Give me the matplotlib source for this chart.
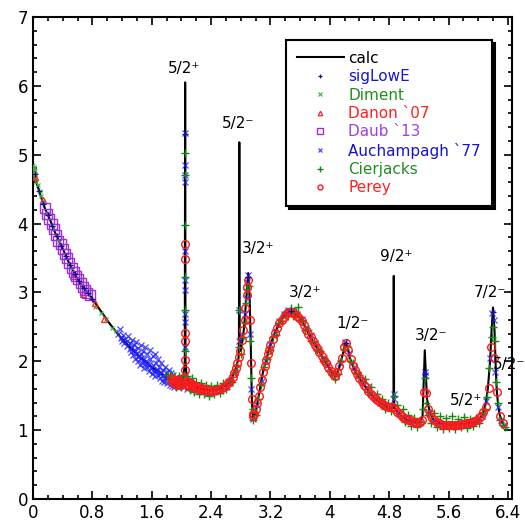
import matplotlib
matplotlib.use("Agg")
import matplotlib.pyplot as plt
from matplotlib.ticker import MultipleLocator

# calculated total cross section
calc_x = [0.00, 0.04, 0.09, 0.16, 0.23, 0.30, 0.39, 0.48, 0.57, 0.66, 0.77, 0.90, 1.03, 1.17,
          1.30, 1.44, 1.57, 1.71, 1.85, 1.95, 2.00, 2.03, 2.045, 2.05, 2.055, 2.07, 2.10, 2.20,
          2.30, 2.40, 2.50, 2.60, 2.68, 2.74, 2.77, 2.775, 2.78, 2.785, 2.80, 2.84, 2.87, 2.90,
          2.92, 2.935, 2.95, 2.965, 3.00, 3.05, 3.10, 3.19, 3.26, 3.33, 3.40, 3.46, 3.52, 3.62,
          3.73, 3.80, 3.87, 3.95, 4.03, 4.07, 4.12, 4.17, 4.21, 4.24, 4.27, 4.33, 4.41, 4.50,
          4.58, 4.68, 4.77, 4.85, 4.858, 4.862, 4.866, 4.87, 4.95, 5.04, 5.12, 5.21, 5.25, 5.28,
          5.31, 5.35, 5.40, 5.48, 5.60, 5.71, 5.82, 5.93, 6.00, 6.06, 6.10, 6.13, 6.16, 6.18,
          6.20, 6.22, 6.235, 6.25, 6.27, 6.29, 6.33]
calc_y = [4.80, 4.62, 4.44, 4.22, 4.05, 3.86, 3.66, 3.44, 3.25, 3.09, 2.95, 2.75, 2.55, 2.36,
          2.21, 2.06, 1.94, 1.83, 1.74, 1.71, 1.70, 1.75, 2.00, 6.05, 2.00, 1.78, 1.69, 1.62,
          1.59, 1.58, 1.59, 1.65, 1.75, 1.92, 2.05, 2.30, 5.18, 2.30, 2.15, 2.45, 2.85, 3.28,
          2.90, 2.20, 1.40, 1.19, 1.25, 1.55, 1.85, 2.21, 2.42, 2.57, 2.68, 2.72, 2.70, 2.60,
          2.37, 2.24, 2.12, 1.97, 1.83, 1.78, 1.88, 2.08, 2.26, 2.22, 2.05, 1.88, 1.73, 1.60,
          1.49, 1.40, 1.34, 1.32, 1.40, 3.24, 1.40, 1.32, 1.22, 1.15, 1.12, 1.11, 1.20, 2.16,
          1.45, 1.25, 1.15, 1.10, 1.08, 1.08, 1.09, 1.11, 1.15, 1.22, 1.38, 1.60, 2.00, 2.45,
          2.78, 2.45, 1.95, 1.58, 1.35, 1.22, 1.10]

sig_x = [0.02, 0.08, 0.14, 0.20, 0.26, 0.32, 0.38, 0.44, 0.50, 0.56, 0.62, 0.68, 0.74, 0.80,
         2.05, 2.90, 3.47, 4.22, 5.28, 6.20]
sig_y = [4.72, 4.47, 4.28, 4.12, 3.97, 3.82, 3.68, 3.53, 3.40, 3.27, 3.17, 3.06, 2.99, 2.90,
         5.30, 3.22, 2.73, 2.27, 1.82, 2.72]

diment_x = [0.000, 0.005, 0.010, 0.010, 0.015, 0.020, 0.005, 0.020, 0.030, 0.040, 0.06, 0.09,
            0.11, 0.14, 0.19, 0.27, 0.35, 0.52, 0.71, 0.84, 0.92, 0.98, 1.06, 1.12]
diment_y = [4.78, 4.85, 4.80, 4.74, 4.82, 4.77, 4.70, 4.66, 4.72, 4.60, 4.56, 4.47, 4.40, 4.33,
            4.15, 3.93, 3.74, 3.36, 3.00, 2.79, 2.70, 2.62, 2.48, 2.44]

danon_x = [0.03, 0.13, 0.535, 0.67, 0.84, 0.95]
danon_y = [4.68, 4.34, 3.24, 2.97, 2.84, 2.62]

daub_x = [0.16, 0.19, 0.22, 0.25, 0.28, 0.31, 0.34, 0.37, 0.40, 0.43, 0.46, 0.49, 0.52, 0.55,
          0.58, 0.61, 0.64, 0.67, 0.70, 0.73, 0.77]
daub_y = [4.23, 4.14, 4.07, 4.00, 3.92, 3.84, 3.75, 3.70, 3.63, 3.56, 3.50, 3.42, 3.36, 3.30,
          3.24, 3.19, 3.13, 3.08, 3.03, 2.99, 2.96]

auch_x = [1.15, 1.17, 1.18, 1.20, 1.21, 1.23, 1.24, 1.26, 1.27, 1.28, 1.30, 1.31, 1.32, 1.33,
          1.34, 1.35, 1.36, 1.37, 1.38, 1.39, 1.40, 1.41, 1.42, 1.43, 1.44, 1.45, 1.46, 1.47,
          1.48, 1.49, 1.50, 1.51, 1.52, 1.53, 1.54, 1.55, 1.56, 1.57, 1.58, 1.59, 1.60, 1.61,
          1.62, 1.63, 1.64, 1.65, 1.66, 1.67, 1.68, 1.69, 1.70, 1.71, 1.72, 1.73, 1.74, 1.75,
          1.76, 1.77, 1.78, 1.79, 1.80, 1.81, 1.82, 1.83, 1.84, 1.85, 1.86, 1.87, 1.88, 1.89,
          1.90, 1.92, 1.93, 1.95, 1.96, 1.98, 2.00, 2.02, 2.04, 2.08, 2.12,
          1.36, 1.41, 1.46, 1.51, 1.56, 1.61, 1.66, 1.71, 1.76, 1.81, 1.86, 1.91, 1.96,
          2.05, 2.05, 2.05, 2.05, 2.05, 2.05, 2.05, 2.05, 2.05, 2.05,
          2.78, 2.78, 2.90, 2.89, 2.88, 2.93, 2.94,
          2.20, 2.28, 2.36, 2.44, 2.52, 2.60, 2.66, 2.72, 2.82, 2.86, 2.97, 3.02, 3.08, 3.14,
          3.20, 3.26, 3.32, 3.38, 3.44, 3.50, 3.56, 3.62, 3.68, 3.74, 3.80, 3.86, 3.92, 3.98,
          4.04, 4.09, 4.14, 4.20, 4.26, 4.32, 4.38, 4.44, 4.50, 4.56, 4.62, 4.68, 4.74, 4.80,
          4.86, 4.86, 4.92, 4.98, 5.04, 5.10, 5.16, 5.22, 5.28, 5.28, 5.33, 5.39, 5.45, 5.51,
          5.57, 5.63, 5.69, 5.75, 5.81, 5.87, 5.93, 5.99, 6.05, 6.11, 6.16, 6.19, 6.21, 6.23,
          6.27, 6.31, 6.35]
auch_y = [2.40, 2.47, 2.34, 2.30, 2.38, 2.26, 2.33, 2.22, 2.30, 2.36, 2.18, 2.26, 2.14, 2.31,
          2.20, 2.09, 2.24, 2.15, 2.03, 2.28, 2.12, 2.00, 2.19, 2.07, 1.95, 2.23, 2.10, 1.98,
          2.15, 2.04, 1.90, 2.20, 2.00, 1.92, 2.11, 1.97, 1.86, 2.16, 2.03, 1.90, 1.82, 2.07,
          1.95, 1.86, 2.10, 1.78, 1.98, 1.88, 1.80, 2.04, 1.92, 1.76, 1.85, 1.97, 1.72, 1.88,
          1.80, 1.70, 1.92, 1.76, 1.84, 1.68, 1.79, 1.88, 1.66, 1.75, 1.83, 1.64, 1.72, 1.80,
          1.62, 1.70, 1.77, 1.63, 1.74, 1.66, 1.76, 1.62, 1.70, 1.60, 1.72,
          2.17, 2.06, 2.05, 1.96, 1.94, 1.87, 1.85, 1.81, 1.76, 1.74, 1.70, 1.68, 1.69,
          5.32, 4.85, 4.70, 4.60, 3.60, 3.18, 3.04, 2.68, 2.57, 2.20,
          2.74, 2.30, 3.26, 3.15, 2.92, 2.40, 1.60,
          1.57, 1.55, 1.54, 1.55, 1.57, 1.62, 1.69, 1.84, 2.36, 2.68, 1.16, 1.36, 1.71, 2.00,
          2.25, 2.43, 2.58, 2.68, 2.74, 2.74, 2.68, 2.61, 2.49, 2.38, 2.27, 2.16, 2.05, 1.94,
          1.85, 1.80, 1.98, 2.28, 2.12, 1.91, 1.80, 1.70, 1.62, 1.52, 1.45, 1.40, 1.36, 1.33,
          1.52, 1.45, 1.25, 1.19, 1.13, 1.12, 1.09, 1.10, 1.85, 1.80, 1.27, 1.15, 1.10, 1.07,
          1.06, 1.05, 1.06, 1.06, 1.07, 1.09, 1.10, 1.13, 1.20, 1.42, 2.05, 2.70, 2.60, 1.85,
          1.33, 1.15, 1.07]

cier_x = [1.80, 1.83, 1.86, 1.90, 1.93, 1.97, 2.00, 2.03,
          2.05, 2.05, 2.05, 2.05, 2.05, 2.05,
          2.08, 2.11, 2.14, 2.17, 2.20, 2.23, 2.26, 2.30, 2.33, 2.37, 2.40, 2.44, 2.48, 2.52,
          2.56, 2.60, 2.64, 2.68, 2.72, 2.75, 2.78, 2.78, 2.80, 2.83, 2.85, 2.87, 2.89, 2.91,
          2.93, 2.94, 2.96, 2.97, 3.00, 3.03, 3.07, 3.11, 3.15, 3.19, 3.23, 3.27, 3.31, 3.35,
          3.39, 3.43, 3.47, 3.51, 3.55, 3.57, 3.59, 3.63, 3.67, 3.71, 3.75, 3.79, 3.83, 3.87,
          3.91, 3.95, 3.99, 4.03, 4.07, 4.11, 4.15, 4.19, 4.23, 4.27, 4.31, 4.35, 4.39, 4.43,
          4.47, 4.51, 4.55, 4.59, 4.63, 4.67, 4.71, 4.75, 4.79, 4.83, 4.86, 4.90, 4.94, 4.98,
          5.02, 5.06, 5.10, 5.14, 5.18, 5.22, 5.26, 5.28, 5.30, 5.33, 5.37, 5.41, 5.45, 5.49,
          5.53, 5.57, 5.61, 5.65, 5.69, 5.73, 5.77, 5.81, 5.85, 5.89, 5.93, 5.97, 6.01, 6.05,
          6.09, 6.12, 6.15, 6.18, 6.20, 6.22, 6.24, 6.27, 6.30, 6.34, 6.36]
cier_y = [1.80, 1.73, 1.82, 1.78, 1.62, 1.79, 1.63, 1.80,
          2.75, 3.23, 3.98, 4.70, 5.03, 2.15,
          1.78, 1.58, 1.75, 1.55, 1.70, 1.52, 1.68, 1.52, 1.66, 1.50, 1.64, 1.52, 1.65, 1.54,
          1.68, 1.60, 1.74, 1.70, 1.85, 1.93, 2.74, 2.20, 2.10, 2.35, 2.55, 2.85, 3.05, 3.10,
          2.30, 1.75, 1.30, 1.15, 1.22, 1.45, 1.66, 1.92, 2.04, 2.17, 2.35, 2.38, 2.56, 2.58,
          2.70, 2.66, 2.78, 2.66, 2.72, 2.79, 2.60, 2.60, 2.45, 2.45, 2.30, 2.29, 2.16, 2.15,
          2.00, 2.00, 1.86, 1.80, 1.74, 1.82, 2.00, 2.18, 2.22, 2.01, 1.97, 1.83, 1.80, 1.70,
          1.74, 1.56, 1.62, 1.46, 1.52, 1.38, 1.45, 1.30, 1.40, 1.28, 1.50, 1.36, 1.20, 1.30,
          1.12, 1.22, 1.06, 1.18, 1.05, 1.12, 1.30, 1.75, 1.40, 1.22, 1.10, 1.25, 1.05, 1.20,
          1.02, 1.18, 1.03, 1.20, 1.01, 1.16, 1.04, 1.19, 1.03, 1.16, 1.06, 1.18, 1.10, 1.25,
          1.30, 1.48, 1.90, 2.35, 2.50, 2.30, 1.70, 1.40, 1.15, 1.08, 1.05]

perey_x = [1.86, 1.87, 1.89, 1.90, 1.92, 1.93, 1.95, 1.96, 1.98, 1.99, 2.01, 2.02,
           2.05, 2.05, 2.05, 2.05, 2.05, 2.05,
           2.07, 2.08, 2.10, 2.11, 2.13, 2.14, 2.16, 2.18, 2.20, 2.22, 2.24, 2.26, 2.28, 2.30,
           2.33, 2.36, 2.39, 2.42, 2.45, 2.48, 2.51, 2.54, 2.57, 2.60, 2.63, 2.66, 2.69, 2.71,
           2.73, 2.75, 2.77, 2.79, 2.81, 2.83, 2.85, 2.86, 2.88, 2.89, 2.90,
           2.92, 2.94, 2.945, 2.96, 2.97, 2.98, 3.00, 3.02, 3.04, 3.06, 3.08, 3.10, 3.12, 3.14,
           3.16, 3.18, 3.20, 3.23, 3.26, 3.29, 3.32, 3.35, 3.38, 3.41, 3.44, 3.47, 3.50, 3.53,
           3.56, 3.59, 3.62, 3.65, 3.68, 3.71, 3.74, 3.77, 3.80, 3.83, 3.86, 3.89, 3.92, 3.95,
           3.98, 4.01, 4.04, 4.07, 4.10, 4.13, 4.16, 4.19, 4.22, 4.25, 4.28, 4.31, 4.34, 4.37,
           4.40, 4.43, 4.46, 4.49, 4.52, 4.55, 4.58, 4.61, 4.64, 4.67, 4.70, 4.73, 4.76, 4.79,
           4.82, 4.85, 4.88, 4.91, 4.94, 4.97, 5.00, 5.03, 5.06, 5.09, 5.12, 5.15, 5.18, 5.21,
           5.24, 5.27, 5.29, 5.32, 5.35, 5.38, 5.41, 5.44, 5.47, 5.50, 5.53, 5.56, 5.59, 5.62,
           5.65, 5.68, 5.71, 5.74, 5.77, 5.80, 5.83, 5.86, 5.89, 5.92, 5.95, 5.98, 6.01, 6.04,
           6.07, 6.10, 6.14, 6.17, 6.21, 6.25, 6.29, 6.33]
perey_y = [1.76, 1.70, 1.74, 1.68, 1.73, 1.67, 1.72, 1.66, 1.71, 1.66, 1.70, 1.75,
           1.88, 2.02, 2.30, 2.41, 3.49, 3.70,
           1.72, 1.66, 1.70, 1.64, 1.68, 1.62, 1.66, 1.61, 1.64, 1.60, 1.62, 1.58, 1.61, 1.58,
           1.60, 1.57, 1.59, 1.57, 1.59, 1.58, 1.60, 1.61, 1.63, 1.65, 1.68, 1.72, 1.77, 1.83,
           1.90, 1.97, 2.06, 2.15, 2.31, 2.45, 2.60, 2.77, 2.96, 3.08, 3.18,
           2.60, 1.97, 1.45, 1.23, 1.20, 1.24, 1.30, 1.40, 1.50, 1.62, 1.73, 1.84, 1.93, 2.02,
           2.10, 2.17, 2.24, 2.32, 2.41, 2.48, 2.55, 2.60, 2.65, 2.68, 2.71, 2.72, 2.70, 2.68,
           2.66, 2.63, 2.58, 2.52, 2.46, 2.40, 2.35, 2.29, 2.24, 2.19, 2.13, 2.08, 2.02, 1.97,
           1.91, 1.86, 1.82, 1.79, 1.84, 1.93, 2.05, 2.20, 2.27, 2.17, 2.03, 1.93, 1.87, 1.81,
           1.76, 1.71, 1.66, 1.62, 1.57, 1.53, 1.50, 1.47, 1.44, 1.41, 1.39, 1.37, 1.35, 1.34,
           1.33, 1.33, 1.30, 1.27, 1.24, 1.21, 1.18, 1.16, 1.15, 1.14, 1.12, 1.11, 1.11, 1.12,
           1.14, 1.56, 1.54, 1.30, 1.24, 1.18, 1.14, 1.12, 1.10, 1.09, 1.08, 1.08, 1.07, 1.07,
           1.07, 1.08, 1.08, 1.08, 1.09, 1.09, 1.10, 1.10, 1.11, 1.12, 1.13, 1.15, 1.17, 1.20,
           1.26, 1.34, 1.61, 2.21, 2.05, 1.56, 1.21, 1.10]

# resonance labels: text, x, y
res_labels = ["5/2⁺", "5/2⁻", "3/2⁺", "3/2⁺", "1/2⁻", "9/2⁺", "3/2⁻", "5/2⁺", "7/2⁻", "5/2⁻"]
res_x = [2.03, 2.76, 3.03, 3.66, 4.31, 4.89, 5.37, 5.83, 6.16, 6.42]
res_y = [6.25, 5.45, 3.64, 3.00, 2.55, 3.52, 2.38, 1.43, 3.00, 1.95]

fig = plt.figure(figsize=(5.25, 5.30), dpi=100)
ax = fig.add_axes([0.063, 0.0585, 0.912, 0.9095])

ax.plot(calc_x, calc_y, color='black', lw=1.5, label='calc', zorder=2)
ax.plot(diment_x, diment_y, ls='none', marker='x', ms=3.5, mew=0.8, color='#3fae3f',
        label='Diment', zorder=3)
ax.plot(danon_x, danon_y, ls='none', marker='^', ms=5, mew=0.9, mfc='none', color='#ff2020',
        label='Danon `07', zorder=3)
ax.plot(daub_x, daub_y, ls='none', marker='s', ms=7, mew=1.0, mfc='none', color='#9b30d9',
        label='Daub `13', zorder=3)
ax.plot(auch_x, auch_y, ls='none', marker='x', ms=5, mew=0.9, color='#2020ff', alpha=0.8,
        label='Auchampagh `77', zorder=3)
ax.plot(cier_x, cier_y, ls='none', marker='+', ms=6, mew=1.0, color='#138a13',
        label='Cierjacks', zorder=3)
ax.plot(perey_x, perey_y, ls='none', marker='o', ms=5.5, mew=1.0, mfc='none', color='#ff1a1a',
        label='Perey', zorder=4)
ax.plot(sig_x, sig_y, ls='none', marker='+', ms=4, mew=0.9, color='#10109a',
        label='sigLowE', zorder=5)

for t, x, y in zip(res_labels, res_x, res_y):
    ax.text(x, y, t, ha='center', va='center', fontsize=11, zorder=6, clip_on=False)

ax.set_xlim(0, 6.454)
ax.set_ylim(0, 7)
ax.xaxis.set_minor_locator(MultipleLocator(0.2))
ax.yaxis.set_major_locator(MultipleLocator(1))
ax.yaxis.set_minor_locator(MultipleLocator(0.2))
ax.set_xticks([0, 0.8, 1.6, 2.4, 3.2, 4, 4.8, 5.6, 6.4])
ax.set_xticklabels(['0', '0.8', '1.6', '2.4', '3.2', '4', '4.8', '5.6', '6.4'])
ax.tick_params(which='both', direction='in', top=True, right=True, labelsize=12, width=1.2)
ax.tick_params(which='major', length=6)
ax.tick_params(which='minor', length=3)
for s in ax.spines.values():
    s.set_linewidth(1.5)

handles, labels = ax.get_legend_handles_labels()
order = ['calc', 'sigLowE', 'Diment', 'Danon `07', 'Daub `13', 'Auchampagh `77', 'Cierjacks', 'Perey']
hmap = dict(zip(labels, handles))
leg = ax.legend([hmap[k] for k in order], order, loc='upper right', bbox_to_anchor=(0.958, 0.952),
                borderaxespad=0, fontsize=11, numpoints=1, markerscale=0.65, handlelength=3.1,
                handletextpad=0.3, labelspacing=0.22, borderpad=0.7, fancybox=False,
                framealpha=1, edgecolor='black', shadow={'color': 'black', 'alpha': 1})
leg.get_frame().set_linewidth(1.5)
txt_colors = ['black', '#1515d0', '#1f8f1f', '#ff2020', '#a040e0', '#1515d0', '#1f8f1f', '#ff2020']
for t, c in zip(leg.get_texts(), txt_colors):
    t.set_color(c)

fig.savefig('out.png', dpi=100)
